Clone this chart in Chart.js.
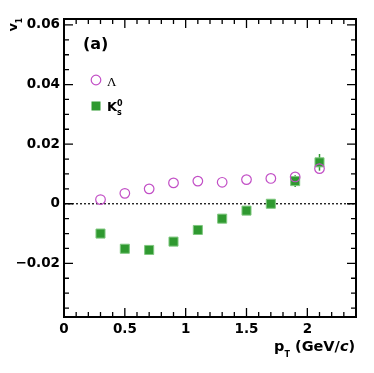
<!DOCTYPE html>
<html>
<head>
<meta charset="utf-8">
<script src="https://cdn.jsdelivr.net/npm/chart.js@4.4.0/dist/chart.umd.min.js"></script>
<style>
  html, body { margin: 0; padding: 0; background: #fff; }
  #wrap { width: 374px; height: 373px; position: relative; }
</style>
</head>
<body>
<div id="wrap"><canvas id="v1Chart" width="374" height="373"></canvas></div>
<script>
// ── Data ────────────────────────────────────────────────────
const PT       = [0.3, 0.5, 0.7, 0.9, 1.1, 1.3, 1.5, 1.7, 1.9, 2.1];
const V1_LAM   = [0.0014, 0.0035, 0.0050, 0.0070, 0.0076, 0.0072, 0.0081, 0.0085, 0.0090, 0.0118];
const V1_K0S   = [-0.0100, -0.0151, -0.0155, -0.0127, -0.0088, -0.0050, -0.0023, 0.0000, 0.0076, 0.0139];
const ERR_K0S  = [0.0003, 0.0003, 0.0003, 0.0003, 0.0003, 0.0003, 0.0004, 0.0006, 0.0020, 0.0028];
const X_TICKS  = [0, 0.5, 1, 1.5, 2];
const Y_TICKS  = [-0.02, 0, 0.02, 0.04, 0.06];

const X_MIN = 0, X_MAX = 2.4, Y_MIN = -0.038, Y_MAX = 0.062;
const MAGENTA = '#c24fc6';
const GREEN   = '#2f9930';
const FONT    = '"DejaVu Sans", Arial, sans-serif';

const pts = (ys) => PT.map((x, i) => ({ x, y: ys[i] }));

// ── Frame, ticks, zero line, error bars, labels ─────────────
const rootStyle = {
  id: 'rootStyle',
  beforeDatasetsDraw(chart) {
    const { ctx, chartArea: a, scales: { x, y } } = chart;
    ctx.save();
    // dotted zero line
    ctx.strokeStyle = '#000'; ctx.lineWidth = 1.2;
    ctx.setLineDash([2, 2]);
    ctx.beginPath();
    ctx.moveTo(a.left, y.getPixelForValue(0));
    ctx.lineTo(a.right, y.getPixelForValue(0));
    ctx.stroke();
    ctx.setLineDash([]);
    // error bars for K0s
    ctx.strokeStyle = GREEN; ctx.lineWidth = 1.5;
    PT.forEach((p, i) => {
      const px = x.getPixelForValue(p);
      ctx.beginPath();
      ctx.moveTo(px, y.getPixelForValue(V1_K0S[i] - ERR_K0S[i]));
      ctx.lineTo(px, y.getPixelForValue(V1_K0S[i] + ERR_K0S[i]));
      ctx.stroke();
    });
    ctx.restore();
  },
  afterDraw(chart) {
    const { ctx, chartArea: a, scales: { x, y } } = chart;
    ctx.save();
    ctx.strokeStyle = '#000'; ctx.lineWidth = 2;
    ctx.strokeRect(a.left, a.top, a.right - a.left, a.bottom - a.top);
    ctx.lineWidth = 1.3;
    // x ticks (every 0.1, major every 0.5), bottom and top
    for (let k = 0; k <= 24; k++) {
      const v = k / 10, px = x.getPixelForValue(v);
      const len = k % 5 === 0 ? 9 : 5;
      ctx.beginPath();
      ctx.moveTo(px, a.bottom); ctx.lineTo(px, a.bottom - len);
      ctx.moveTo(px, a.top);    ctx.lineTo(px, a.top + len);
      ctx.stroke();
    }
    // y ticks (every 0.005, major every 0.02), left and right
    for (let k = -7; k <= 12; k++) {
      const v = k * 0.005, py = y.getPixelForValue(v);
      const len = k % 4 === 0 ? 9 : 5;
      ctx.beginPath();
      ctx.moveTo(a.left, py);  ctx.lineTo(a.left + len, py);
      ctx.moveTo(a.right, py); ctx.lineTo(a.right - len, py);
      ctx.stroke();
    }
    // "(a)"
    ctx.fillStyle = '#000';
    ctx.font = 'bold 16px ' + FONT;
    ctx.textBaseline = 'alphabetic';
    ctx.fillText('(a)', 83, 49);
    // legend
    ctx.strokeStyle = MAGENTA; ctx.lineWidth = 1.2;
    ctx.beginPath(); ctx.arc(96, 80, 4.8, 0, Math.PI * 2); ctx.stroke();
    ctx.fillStyle = GREEN;
    ctx.fillRect(91.5, 101.5, 9, 9);
    ctx.fillStyle = '#000';
    ctx.font = '13px "Liberation Serif", serif';
    ctx.fillText('Λ', 107, 86);
    ctx.font = 'bold 13px ' + FONT;
    ctx.fillText('K', 107, 111);
    ctx.font = 'bold 8px ' + FONT;
    ctx.fillText('0', 117, 106);
    ctx.fillText('s', 117, 115);
    // y title v1 (rotated)
    ctx.save();
    ctx.translate(17, 18);
    ctx.rotate(-Math.PI / 2);
    ctx.textAlign = 'right';
    ctx.font = 'bold 8px ' + FONT;
    ctx.fillText('1', 0, 5);
    ctx.font = 'bold 13px ' + FONT;
    ctx.fillText('v', -5, 0);
    ctx.restore();
    // x title pT (GeV/c)
    ctx.textAlign = 'left';
    let cx = 274;
    ctx.font = 'bold 14.5px ' + FONT;
    ctx.fillText('p', cx, 351); cx += ctx.measureText('p').width;
    ctx.font = 'bold 8px ' + FONT;
    ctx.fillText('T', cx, 357); cx += ctx.measureText('T').width + 3;
    cx = 295;
    ctx.font = 'bold 14.5px ' + FONT;
    ctx.fillText('(GeV/', cx, 351); cx += ctx.measureText('(GeV/').width;
    ctx.font = 'italic bold 14.5px ' + FONT;
    ctx.fillText('c', cx, 351); cx += ctx.measureText('c').width;
    ctx.font = 'bold 14.5px ' + FONT;
    ctx.fillText(')', cx, 351);
    ctx.restore();
  }
};

new Chart(document.getElementById('v1Chart'), {
  type: 'scatter',
  data: {
    datasets: [
      {
        label: 'Λ', data: pts(V1_LAM),
        pointStyle: 'circle', pointRadius: 4.8, borderWidth: 1.2,
        borderColor: MAGENTA, backgroundColor: 'rgba(0,0,0,0)',
      },
      {
        label: 'K0s', data: pts(V1_K0S),
        pointStyle: 'rect', pointRadius: 6.4, borderWidth: 1,
        borderColor: '#7fc77f', backgroundColor: GREEN,
      },
    ],
  },
  plugins: [rootStyle],
  options: {
    responsive: false, animation: false, devicePixelRatio: 1,
    layout: { padding: { top: 19, right: 18, left: 0, bottom: 0 } },
    plugins: { legend: { display: false }, tooltip: { enabled: false } },
    scales: {
      x: {
        type: 'linear', min: X_MIN, max: X_MAX,
        afterBuildTicks: (s) => { s.ticks = X_TICKS.map(v => ({ value: v })); },
        afterFit: (s) => { s.height = 56; },
        grid: { display: false, drawTicks: false },
        border: { display: false },
        ticks: {
          padding: 4, color: '#000', maxRotation: 0,
          font: { family: FONT, size: 13.5, weight: 'bold' },
          callback: (v) => String(v),
        },
      },
      y: {
        type: 'linear', min: Y_MIN, max: Y_MAX,
        afterBuildTicks: (s) => { s.ticks = Y_TICKS.map(v => ({ value: v })); },
        afterFit: (s) => { s.width = 64; },
        grid: { display: false, drawTicks: false },
        border: { display: false },
        ticks: {
          padding: 4, color: '#000',
          font: { family: FONT, size: 13.5, weight: 'bold' },
          callback: (v) => v === 0 ? '0' : (v < 0 ? '\u2212' : '') + Math.abs(v).toFixed(2),
        },
      },
    },
  },
});
</script>
</body>
</html>
